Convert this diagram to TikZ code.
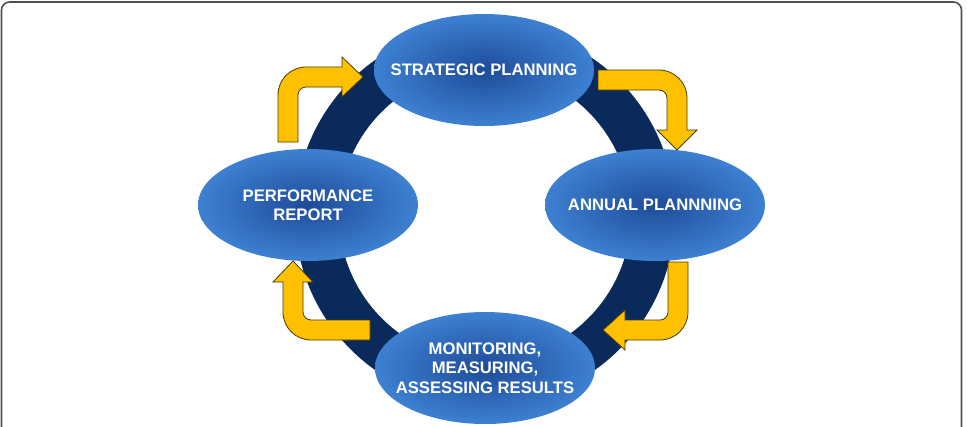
\documentclass[tikz,border=0pt]{standalone}
\usepackage{fontspec}
\setmainfont{Liberation Sans}
\usetikzlibrary{shapes.geometric}

\definecolor{ringnavy}{HTML}{0B2A5C}
\definecolor{ellcore}{HTML}{1E4C98}
\definecolor{ellrim}{HTML}{3D80D2}
\definecolor{arrowgold}{HTML}{FFC000}
\definecolor{arrowedge}{HTML}{4A3C00}
\definecolor{framegray}{HTML}{505050}

\tikzset{
  phase/.style={ellipse, minimum width=165pt, minimum height=84pt, inner xsep=-25pt, inner ysep=-10pt,
    shading=radial, inner color=ellcore, outer color=ellrim,
    text=white, align=center, font=\fontsize{12.5}{14.5}\selectfont\bfseries},
  bent/.style={fill=arrowgold, draw=arrowedge, line width=0.6pt}
}

\begin{document}
\begin{tikzpicture}[x=0.75pt, y=-0.75pt]
  \useasboundingbox (0,0) rectangle (967,426);
  % frame
  \draw[framegray, line width=1.2pt, rounded corners=6pt] (1.5,432) -- (1.5,2) -- (961.5,2) -- (961.5,432);
  % ring
  \fill[ringnavy, even odd rule] (485,215) circle[radius=190] (485,215) circle[radius=146];
  % phases
  \node[phase] (strat) at (484,70) {STRATEGIC PLANNING};
  \node[phase] (annual) at (655,205) {ANNUAL PLANNNING};
  \node[phase] (monitor) at (485,368) {MONITORING,\\MEASURING,\\ASSESSING RESULTS};
  \node[phase] (perf) at (308,205) {PERFORMANCE\\REPORT};
  % bent arrows
  \draw[bent] (278,142) -- (278,95) arc[start angle=180, end angle=270, radius=28] -- (342,67) -- (342,57) -- (363,77)
    -- (342,97) -- (342,87) -- (306,87) arc[start angle=270, end angle=180, radius=8] -- (298,142) -- cycle;
  \draw[bent] (598,70) -- (659,70) arc[start angle=270, end angle=360, radius=28] -- (687,130) -- (697,130) -- (677,150)
    -- (657,130) -- (667,130) -- (667,98) arc[start angle=0, end angle=-90, radius=8] -- (598,90) -- cycle;
  \draw[bent] (688,262) -- (688,312) arc[start angle=0, end angle=90, radius=28] -- (625,340) -- (625,350) -- (603,330)
    -- (625,310) -- (625,320) -- (660,320) arc[start angle=90, end angle=0, radius=8] -- (668,262) -- cycle;
  \draw[bent] (370,340) -- (311,340) arc[start angle=90, end angle=180, radius=28] -- (283,282) -- (273,282) -- (293,261)
    -- (313,282) -- (303,282) -- (303,312) arc[start angle=180, end angle=90, radius=8] -- (370,320) -- cycle;
\end{tikzpicture}
\end{document}
